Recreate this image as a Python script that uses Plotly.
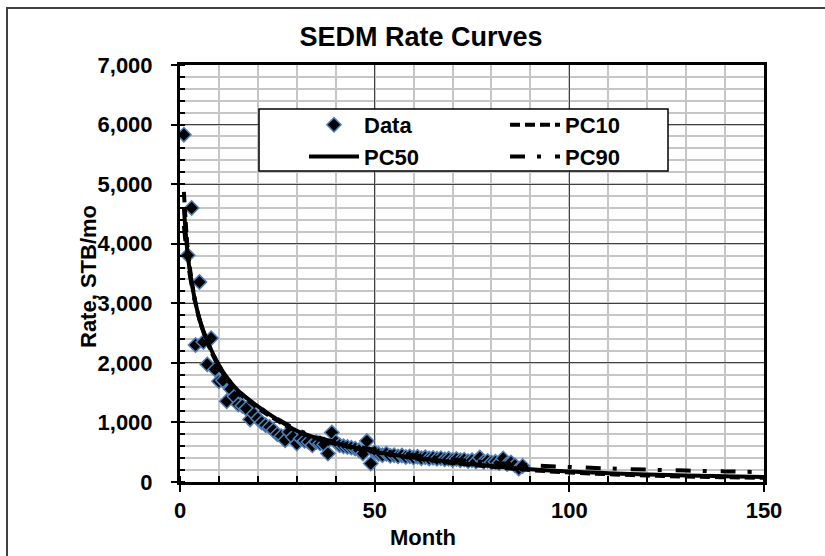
import plotly.graph_objects as go

# ---- data ----
data_month = list(range(1, 89))
data_rate = [5830, 3806, 4600, 2300, 3357, 2350, 1975, 2415, 1890, 1690,
             1705, 1355, 1560, 1435, 1300, 1280, 1232, 1050, 1140, 1064,
             1000, 952, 923, 868, 800, 770, 700, 840, 755, 645,
             728, 690, 672, 616, 672, 645, 630, 477, 830, 672,
             616, 600, 588, 577, 560, 532, 477, 688, 309, 504,
             470, 450, 475, 440, 450, 430, 445, 420, 430, 410,
             425, 400, 415, 395, 405, 390, 400, 380, 390, 370,
             385, 365, 375, 350, 365, 345, 410, 340, 355, 330,
             340, 320, 395, 300, 330, 280, 225, 270]

pc_month = [1, 2, 3, 4, 5, 6, 8, 10, 12, 15, 20, 25, 30, 35, 40, 50, 60, 70,
            80, 90, 100, 110, 120, 130, 140, 150]
pc10_rate = [4870, 3900, 3380, 3000, 2730, 2520, 2190, 1930, 1730, 1500, 1240,
             1030, 850, 730, 640, 500, 400, 320, 255, 200, 160, 130, 108, 92,
             80, 70]
pc50_rate = [4600, 3800, 3350, 3000, 2740, 2540, 2220, 1960, 1760, 1530, 1270,
             1050, 860, 740, 650, 510, 410, 335, 270, 215, 175, 148, 127, 110,
             97, 85]
pc90_rate = [4300, 3700, 3300, 2980, 2730, 2530, 2210, 1960, 1760, 1530, 1270,
             1060, 880, 760, 670, 540, 450, 380, 325, 280, 252, 228, 208, 192,
             178, 165]

x_ticks = [0, 50, 100, 150]
y_ticks = [0, 1000, 2000, 3000, 4000, 5000, 6000, 7000]
y_labels = ["0", "1,000", "2,000", "3,000", "4,000", "5,000", "6,000", "7,000"]

FONT = "Liberation Sans, Arial, sans-serif"
BOLD22 = dict(family=FONT, size=22, color="black", weight="bold")

# plot-area geometry in pixels (used only to place decorations)
L, R, T, B = 180, 764, 65, 482
PW, PH = R - L, B - T


def px_x(p):
    return (p - L) / PW


def px_y(p):
    return (B - p) / PH


fig = go.Figure()
fig.add_trace(go.Scatter(
    x=data_month, y=data_rate, mode="markers", name="Data",
    marker=dict(symbol="diamond", size=11, color="black",
                line=dict(color="#4F81BD", width=1.5)),
))
fig.add_trace(go.Scatter(
    x=pc_month, y=pc10_rate, mode="lines", name="PC10",
    line=dict(color="black", width=4, dash="10px,5px", shape="spline"),
))
fig.add_trace(go.Scatter(
    x=pc_month, y=pc50_rate, mode="lines", name="PC50",
    line=dict(color="black", width=4, shape="spline"),
))
fig.add_trace(go.Scatter(
    x=pc_month, y=pc90_rate, mode="lines", name="PC90",
    line=dict(color="black", width=4, dash="15px,12px,4px,14px", shape="spline"),
))

fig.update_layout(
    width=825, height=556,
    margin=dict(l=L, r=825 - R, t=T, b=556 - B, autoexpand=False),
    paper_bgcolor="white", plot_bgcolor="white",
    font=BOLD22,
    title=dict(text="SEDM Rate Curves", x=421 / 825, xref="container",
               y=1 - 37 / 556, yref="container", xanchor="center",
               yanchor="middle",
               font=dict(family=FONT, size=27, color="black", weight="bold")),
    showlegend=True,
    legend=dict(
        orientation="h", x=px_x(304), y=px_y(104), xanchor="left", yanchor="top",
        bgcolor="rgba(0,0,0,0)", borderwidth=0,
        entrywidth=136, entrywidthmode="pixels",
        font=BOLD22, tracegroupgap=0, itemwidth=50,
    ),
    shapes=[
        dict(type="rect", xref="paper", yref="paper",
             x0=px_x(7), x1=2.0, y0=-1.0, y1=px_y(8),
             line=dict(color="#404040", width=2), layer="below"),
        dict(type="rect", xref="paper", yref="paper",
             x0=px_x(259), x1=px_x(668), y0=px_y(171), y1=px_y(109),
             line=dict(color="black", width=1.5), fillcolor="white",
             layer="above"),
    ],
    annotations=[
        dict(text="Month", xref="paper", yref="paper", x=px_x(423), y=px_y(537),
             xanchor="center", yanchor="middle", showarrow=False, font=BOLD22),
        dict(text="Rate, STB/mo", xref="paper", yref="paper", x=px_x(88),
             y=px_y(277), xanchor="center", yanchor="middle", textangle=-90,
             showarrow=False, font=BOLD22),
    ],
)

fig.update_xaxes(
    range=[0, 150], tickvals=x_ticks, ticktext=[str(v) for v in x_ticks],
    showline=True, linecolor="black", linewidth=3, mirror=True,
    ticks="outside", ticklen=7, tickwidth=1.5, tickcolor="black",
    showgrid=True, gridcolor="#404040", gridwidth=1,
    minor=dict(dtick=10, showgrid=True, gridcolor="#c6c6c6", gridwidth=2,
               ticks="inside", ticklen=6, tickcolor="black", tickwidth=1.5),
    zeroline=False, ticklabelstandoff=0, automargin=False,
)
fig.update_yaxes(
    range=[0, 7000], tickvals=y_ticks, ticktext=y_labels,
    showline=True, linecolor="black", linewidth=3, mirror=True,
    ticks="outside", ticklen=6, tickwidth=1.5, tickcolor="black",
    showgrid=True, gridcolor="#404040", gridwidth=1,
    minor=dict(dtick=200, showgrid=True, gridcolor="#c6c6c6", gridwidth=2,
               ticks="inside", ticklen=5, tickcolor="black", tickwidth=1.5),
    zeroline=False, ticklabelstandoff=14, automargin=False,
)

fig.write_html("out.html")
